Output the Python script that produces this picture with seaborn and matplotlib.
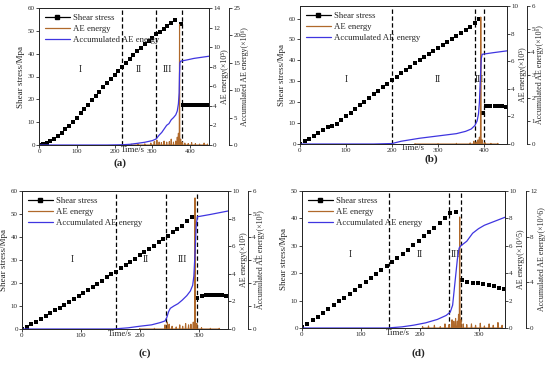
import numpy as np
import pandas as pd
import matplotlib.pyplot as plt
from matplotlib.lines import Line2D
import seaborn as sns

sns.set_style('ticks')
plt.rcParams['font.family'] = ['Liberation Serif', 'DejaVu Serif']

SHEAR_C = 'black'
AE_C = '#B0692B'
ACC_C = '#3F35E0'

# ---- panel (a) ----
shear_a_t = list(range(0, 370, 10)) + [376, 382, 390, 398, 406, 414, 422, 430, 438, 446]
shear_a_v = [0, 0.3, 0.8, 1.6, 2.6, 3.8, 5.2, 6.8, 8.5, 10.2, 12.0, 13.9, 15.8, 17.7, 19.6, 21.5,
             23.4, 25.2, 27.0, 28.8, 30.6, 32.4, 34.2, 36.0, 37.7, 39.4, 41.0, 42.6, 44.1, 45.6,
             47.0, 48.4, 49.7, 51.0, 52.2, 53.3, 54.6,
             53.0, 17.5, 17.4, 17.5, 17.4, 17.5, 17.5, 17.4, 17.5, 17.5]
ae_a_t = [228, 245, 262, 280, 296, 305, 312, 318, 324, 331, 338, 345, 350, 356, 362, 366, 369,
          372, 375, 379, 386, 395, 404, 414, 425, 437, 446]
ae_a_v = [0.05, 0.08, 0.1, 0.12, 0.2, 0.35, 0.5, 0.3, 0.25, 0.4, 0.3, 0.35, 0.6, 0.3, 0.4, 0.8,
          1.2, 12.3, 0.6, 0.3, 0.2, 0.15, 0.25, 0.15, 0.1, 0.2, 0.1]
acc_a_t = [0, 180, 220, 240, 260, 280, 300, 310, 318, 325, 332, 338, 344, 350, 356, 362, 366,
           369, 371, 372, 373, 375, 390, 410, 430, 450]
acc_a_v = [0, 0, 0.05, 0.12, 0.3, 0.5, 0.8, 1.1, 1.8, 2.3, 3.0, 3.6, 3.9, 4.6, 5.0, 5.5, 6.2,
           7.5, 9.5, 13.0, 15.0, 15.3, 15.5, 15.8, 16.0, 16.2]

# ---- panel (b) ----
shear_b_t = list(range(0, 400, 10)) + [397, 405, 414, 423, 431, 440, 447]
shear_b_v = [0, 1.2, 2.5, 3.8, 5.2, 6.6, 7.9, 8.8, 9.8, 11.5, 13.3, 15.0, 16.8, 18.5, 20.2,
             22.0, 23.7, 25.4, 27.1, 28.9, 30.6, 32.2, 33.8, 35.4, 37.0, 38.6, 40.1, 41.6,
             43.1, 44.6, 46.0, 47.4, 48.8, 50.2, 51.6, 53.0, 54.5, 56.0, 57.8, 59.6,
             14.8, 18.0, 18.1, 18.1, 18.0, 18.0, 17.8]
ae_b_t = [250, 300, 340, 370, 378, 383, 387, 390, 393, 396, 402, 415, 430]
ae_b_v = [0.03, 0.03, 0.05, 0.08, 0.2, 0.15, 0.3, 0.5, 9.2, 0.3, 0.1, 0.05, 0.05]
acc_b_t = [0, 160, 200, 220, 260, 300, 340, 360, 372, 380, 385, 388, 390, 392, 394, 396, 420, 450]
acc_b_v = [0, 0, 0.02, 0.12, 0.25, 0.35, 0.45, 0.55, 0.65, 0.8, 1.0, 1.3, 1.8, 2.8, 3.7, 3.9,
           3.97, 4.05]

# ---- panel (c) ----
shear_c_t = list(range(0, 296, 8)) + [298, 305, 312, 319, 326, 333, 340, 347]
shear_c_v = [0.0, 0.9, 2.0, 3.2, 4.4, 5.6, 6.9, 8.1, 9.3, 10.6, 11.8, 13.1, 14.4, 15.7, 17.0,
             18.3, 19.7, 21.0, 22.4, 23.7, 25.0, 26.4, 27.8, 29.2, 30.6, 32.0, 33.4, 34.8,
             36.2, 37.7, 39.1, 40.6, 42.0, 43.5, 45.0, 46.8, 48.6,
             13.6, 14.5, 14.6, 14.6, 14.7, 14.6, 14.6, 14.5]
ae_c_t = [200, 225, 243, 247, 250, 255, 262, 268, 273, 278, 283, 287, 291, 294, 297, 305, 320, 335]
ae_c_v = [0.03, 0.05, 0.3, 0.5, 0.35, 0.2, 0.15, 0.3, 0.2, 0.4, 0.3, 0.35, 0.5, 9.5, 0.4, 0.1,
          0.05, 0.05]
acc_c_t = [0, 155, 180, 200, 220, 235, 243, 246, 249, 252, 258, 265, 272, 280, 286, 290, 292,
           294, 296, 298, 320, 350]
acc_c_v = [0, 0, 0.05, 0.12, 0.18, 0.28, 0.35, 0.5, 0.75, 0.9, 1.0, 1.1, 1.25, 1.45, 1.65, 1.9,
           2.3, 3.3, 4.5, 4.88, 4.98, 5.13]

# ---- panel (d) ----
shear_d_t = list(range(0, 270, 9)) + [272, 281, 290, 299, 308, 317, 326, 335, 344]
shear_d_v = [0.5, 1.5, 2.8, 4.1, 5.5, 6.9, 8.3, 9.7, 11.1, 12.5, 13.9, 15.3, 16.7, 18.1, 19.6,
             21.1, 22.6, 24.1, 25.6, 27.1, 28.6, 30.2, 31.8, 33.4, 35.0, 36.6, 38.2, 40.0,
             42.0, 42.2,
             17.5, 16.8, 16.5, 16.3, 16.0, 15.6, 15.2, 14.7, 14.4]
ae_d_t = [205, 215, 225, 235, 243, 250, 255, 258, 261, 264, 266, 268, 270, 274, 280, 288, 295,
          303, 310, 318, 325, 333, 340]
ae_d_v = [0.1, 0.15, 0.2, 0.1, 0.3, 0.25, 0.6, 0.5, 0.7, 0.5, 1.0, 8.1, 0.6, 0.3, 0.25, 0.3,
          0.2, 0.35, 0.15, 0.3, 0.2, 0.4, 0.2]
acc_d_t = [0, 145, 170, 190, 210, 230, 245, 252, 256, 260, 264, 267, 270, 280, 290, 300, 310,
           320, 335, 345]
acc_d_v = [0, 0, 0.1, 0.25, 0.45, 0.75, 1.1, 1.4, 2.0, 4.0, 6.0, 7.0, 7.2, 7.6, 8.3, 8.7, 9.0,
           9.2, 9.5, 9.7]


def spikes(t, v, width=0.7):
    """turn a list of AE bursts into a spiky line"""
    xs, ys = [], []
    for ti, vi in zip(t, v):
        xs += [ti - width, ti, ti + width]
        ys += [0, vi, 0]
    return pd.DataFrame({'t': xs, 'e': ys})


def draw_panel(fig, rect, cfg):
    ax = fig.add_axes(rect)
    ax2 = ax.twinx()
    ax3 = ax.twinx()
    ax3.spines['right'].set_position(('outward', cfg['offset']))

    ae = spikes(cfg['ae_t'], cfg['ae_v'])
    acc = pd.DataFrame({'t': cfg['acc_t'], 'e': cfg['acc_v']})
    sh = pd.DataFrame({'t': cfg['shear_t'], 's': cfg['shear_v']})

    sns.lineplot(data=ae, x='t', y='e', ax=ax2, color=AE_C, linewidth=0.8, sort=False)
    sns.lineplot(data=acc, x='t', y='e', ax=ax3, color=ACC_C, linewidth=0.9, sort=False)
    sns.scatterplot(data=sh, x='t', y='s', ax=ax, marker='s', s=8, color=SHEAR_C,
                    edgecolor=SHEAR_C, linewidth=0, zorder=5)

    for xv in cfg['dashes']:
        ax.axvline(xv, color='black', linestyle='--', linewidth=0.9, dashes=(3.5, 2))

    ax.set_xlim(*cfg['xlim'])
    ax.set_ylim(*cfg['ylim'])
    ax.set_yticks(cfg['yticks'])
    ax.set_xticks(cfg['xticks'])
    ax2.set_ylim(*cfg['ae_lim'])
    ax2.set_yticks(cfg['ae_ticks'])
    ax3.set_ylim(*cfg['acc_lim'])
    ax3.set_yticks(cfg['acc_ticks'])

    # the time label sits in the tick-label row, between two ticks
    ax.set_xlabel('Time/s', fontsize=6.3, va='center')
    ax.xaxis.set_label_coords(cfg['xlab'][0], cfg['xlab'][1])
    ax.set_ylabel('Shear stress/Mpa', fontsize=6.5, labelpad=2)
    ax2.set_ylabel(cfg['ae_label'], fontsize=5.8, labelpad=0.5)
    ax3.set_ylabel(cfg['acc_label'], fontsize=5.8, labelpad=0.5)
    for a in (ax, ax2, ax3):
        a.tick_params(labelsize=5, length=2, width=0.6, pad=1)
        for sp in a.spines.values():
            sp.set_linewidth(0.7)
    ax2.spines['right'].set_visible(True)
    ax3.spines['right'].set_visible(True)

    for txt, (xv, yv) in zip(['I', 'II', 'III'], cfg['stages']):
        ax.text(xv, yv, txt, fontsize=7, ha='center', va='center')

    handles = [Line2D([], [], color=SHEAR_C, marker='s', markersize=2.8, linewidth=0.9),
               Line2D([], [], color=AE_C, linewidth=0.9),
               Line2D([], [], color=ACC_C, linewidth=0.9)]
    ax3.legend(handles, ['Shear stress', 'AE energy', 'Accumulated AE energy'],
               loc='upper left', frameon=False, fontsize=6.3, handlelength=2.8,
               borderaxespad=0.3, labelspacing=0.3, handletextpad=0.4)

    fig.text(cfg['tag_xy'][0], cfg['tag_xy'][1], cfg['tag'], fontsize=8, fontweight='bold',
             ha='center', va='center')


fig = plt.figure(figsize=(5.5, 3.69), dpi=100)

panels = [
    dict(rect=[39 / 550, 1 - 145 / 369, 170 / 550, 137 / 369], offset=14.5,
         shear_t=shear_a_t, shear_v=shear_a_v, ae_t=ae_a_t, ae_v=ae_a_v,
         acc_t=acc_a_t, acc_v=acc_a_v, dashes=[220, 311, 378],
         xlim=(0, 450), xticks=[0, 100, 200, 300, 400], ylim=(0, 60), yticks=range(0, 61, 10),
         ae_lim=(0, 14), ae_ticks=range(0, 15, 2), acc_lim=(0, 25), acc_ticks=range(0, 26, 5),
         ae_label='AE energy(×10⁵)', acc_label='Accumulated AE energy(×10⁶)',
         xlab=(0.55, -0.035),
         stages=[(110, 33), (265, 33), (340, 33)], tag='(a)', tag_xy=(120 / 550, 1 - 163 / 369)),
    dict(rect=[300 / 550, 1 - 144 / 369, 207 / 550, 138 / 369], offset=14.5,
         shear_t=shear_b_t, shear_v=shear_b_v, ae_t=ae_b_t, ae_v=ae_b_v,
         acc_t=acc_b_t, acc_v=acc_b_v, dashes=[200, 380, 399],
         xlim=(0, 450), xticks=[0, 100, 200, 300, 400], ylim=(0, 66), yticks=range(0, 61, 10),
         ae_lim=(0, 10), ae_ticks=range(0, 11, 2), acc_lim=(0, 6), acc_ticks=range(0, 7),
         ae_label='AE energy(×10⁵)', acc_label='Accumulated AE energy(×10⁶)',
         xlab=(0.545, -0.03),
         stages=[(100, 31), (300, 31), (389, 31)], tag='(b)', tag_xy=(431 / 550, 1 - 159 / 369)),
    dict(rect=[22 / 550, 1 - 329 / 369, 206 / 550, 138 / 369], offset=14.5,
         shear_t=shear_c_t, shear_v=shear_c_v, ae_t=ae_c_t, ae_v=ae_c_v,
         acc_t=acc_c_t, acc_v=acc_c_v, dashes=[159, 245, 298],
         xlim=(0, 350), xticks=[0, 100, 200, 300], ylim=(0, 60), yticks=range(0, 61, 10),
         ae_lim=(0, 10), ae_ticks=range(0, 11, 2), acc_lim=(0, 6), acc_ticks=range(0, 7),
         ae_label='AE energy(×10⁵)', acc_label='Accumulated AE energy(×10⁶)',
         xlab=(0.475, -0.035),
         stages=[(85, 30), (210, 30), (272, 30)], tag='(c)', tag_xy=(145 / 550, 1 - 353 / 369)),
    dict(rect=[302 / 550, 1 - 328 / 369, 203 / 550, 137 / 369], offset=15,
         shear_t=shear_d_t, shear_v=shear_d_v, ae_t=ae_d_t, ae_v=ae_d_v,
         acc_t=acc_d_t, acc_v=acc_d_v, dashes=[148, 250, 270],
         xlim=(0, 345), xticks=[0, 100, 200, 300], ylim=(0, 50), yticks=range(0, 51, 10),
         ae_lim=(0, 10), ae_ticks=range(0, 11, 2), acc_lim=(0, 12), acc_ticks=range(0, 13, 4),
         ae_label='AE energy(×10^5)', acc_label='Accumulated AE energy(×10^6)',
         xlab=(0.47, -0.035),
         stages=[(82, 27), (200, 27), (260, 27)], tag='(d)', tag_xy=(418 / 550, 1 - 353 / 369)),
]

for cfg in panels:
    draw_panel(fig, cfg['rect'], cfg)

fig.savefig('out.png', dpi=100)
